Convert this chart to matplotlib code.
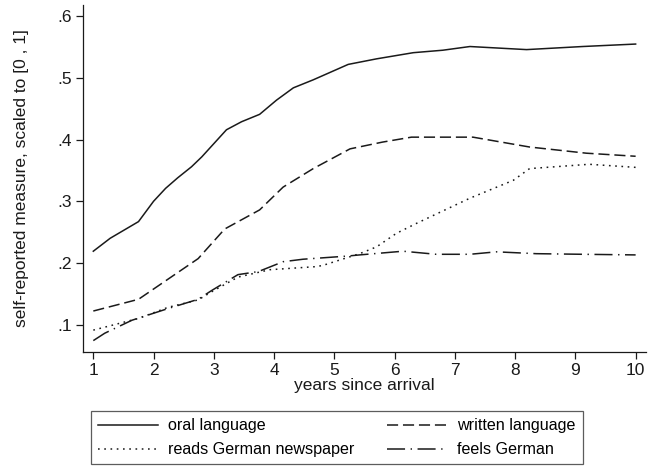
import matplotlib
matplotlib.use("Agg")
import matplotlib.pyplot as plt

plt.rcParams["font.family"] = ["Liberation Sans", "DejaVu Sans"]
plt.rcParams["lines.scale_dashes"] = False

# oral language
oral_x = [1, 1.28, 1.75, 2.0, 2.2, 2.4, 2.63, 2.8, 3.21, 3.46, 3.76, 4.04, 4.32, 4.65,
          5.23, 5.70, 6.31, 6.80, 7.25, 8.19, 9.12, 10]
oral_y = [0.219, 0.240, 0.267, 0.300, 0.321, 0.338, 0.356, 0.372, 0.416, 0.429, 0.441,
          0.464, 0.484, 0.497, 0.522, 0.531, 0.541, 0.545, 0.551, 0.546, 0.551, 0.555]

# written language
written_x = [1, 1.75, 2.74, 3.18, 3.76, 4.15, 4.65, 5.26, 5.8, 6.28, 7.30, 8.24, 9.18, 10]
written_y = [0.122, 0.141, 0.207, 0.255, 0.286, 0.323, 0.353, 0.385, 0.396, 0.404,
             0.404, 0.388, 0.378, 0.373]

# reads German newspaper
news_x = [1, 1.75, 2.24, 2.74, 2.96, 3.40, 3.93, 4.70, 4.81, 5.42, 5.70, 6.03, 6.36,
          7.25, 7.97, 8.24, 9.23, 10]
news_y = [0.091, 0.110, 0.128, 0.140, 0.153, 0.177, 0.189, 0.194, 0.196, 0.215, 0.226,
          0.248, 0.264, 0.305, 0.334, 0.353, 0.360, 0.355]

# feels German
feels_x = [1, 1.19, 1.64, 2.24, 2.74, 2.96, 3.40, 3.74, 4.15, 4.48, 5.20, 5.42, 6.14,
           6.69, 7.25, 7.69, 8.35, 9.13, 10]
feels_y = [0.074, 0.086, 0.107, 0.126, 0.141, 0.155, 0.181, 0.186, 0.202, 0.206, 0.211,
           0.213, 0.219, 0.214, 0.214, 0.218, 0.215, 0.214, 0.213]

xticks = [1, 2, 3, 4, 5, 6, 7, 8, 9, 10]
yticks = [0.1, 0.2, 0.3, 0.4, 0.5, 0.6]
ytick_labels = [".1", ".2", ".3", ".4", ".5", ".6"]

col = "#1a1a1a"
fs = 12.5
lfs = 11.6

fig = plt.figure(figsize=(6.59, 4.74), dpi=100)
ax = fig.add_axes([0.1255, 0.258, 0.8555, 0.731])

ax.plot(oral_x, oral_y, color=col, lw=1.1, ls="-", label="oral language")
ax.plot(written_x, written_y, color=col, lw=1.1, ls=(0, (8, 3.5)), label="written language")
ax.plot(news_x, news_y, color=col, lw=1.1, ls=(0, (1.2, 3.3)), label="reads German newspaper")
ax.plot(feels_x, feels_y, color=col, lw=1.1, ls=(0, (13, 4, 1, 4)), label="feels German")

ax.set_xlim(0.824, 10.18)
ax.set_ylim(0.056, 0.618)
ax.set_xticks(xticks)
ax.set_yticks(yticks)
ax.set_yticklabels(ytick_labels)
ax.tick_params(direction="out", length=5, width=0.9, labelsize=fs, pad=3, colors=col)

for s in ["top", "right"]:
    ax.spines[s].set_visible(False)
for s in ["left", "bottom"]:
    ax.spines[s].set_linewidth(0.9)
    ax.spines[s].set_color(col)

ax.set_xlabel("years since arrival", fontsize=fs, color=col)
ax.set_ylabel("self-reported measure, scaled to [0 , 1]", fontsize=fs, color=col)
ax.xaxis.set_label_coords(0.5, -0.077)
ax.yaxis.set_label_coords(-0.095, 0.5)

handles, labels = ax.get_legend_handles_labels()
order = [0, 2, 1, 3]
leg = fig.legend([handles[i] for i in order], [labels[i] for i in order],
                 ncol=2, loc="center", bbox_to_anchor=(0.511, 0.0764),
                 fontsize=lfs, frameon=True, fancybox=False, handlelength=3.7,
                 handletextpad=0.66, columnspacing=2.0, borderpad=0.45,
                 labelspacing=0.55)
leg.get_frame().set_edgecolor("#333333")
leg.get_frame().set_linewidth(0.9)

fig.savefig("out.png", dpi=100)
